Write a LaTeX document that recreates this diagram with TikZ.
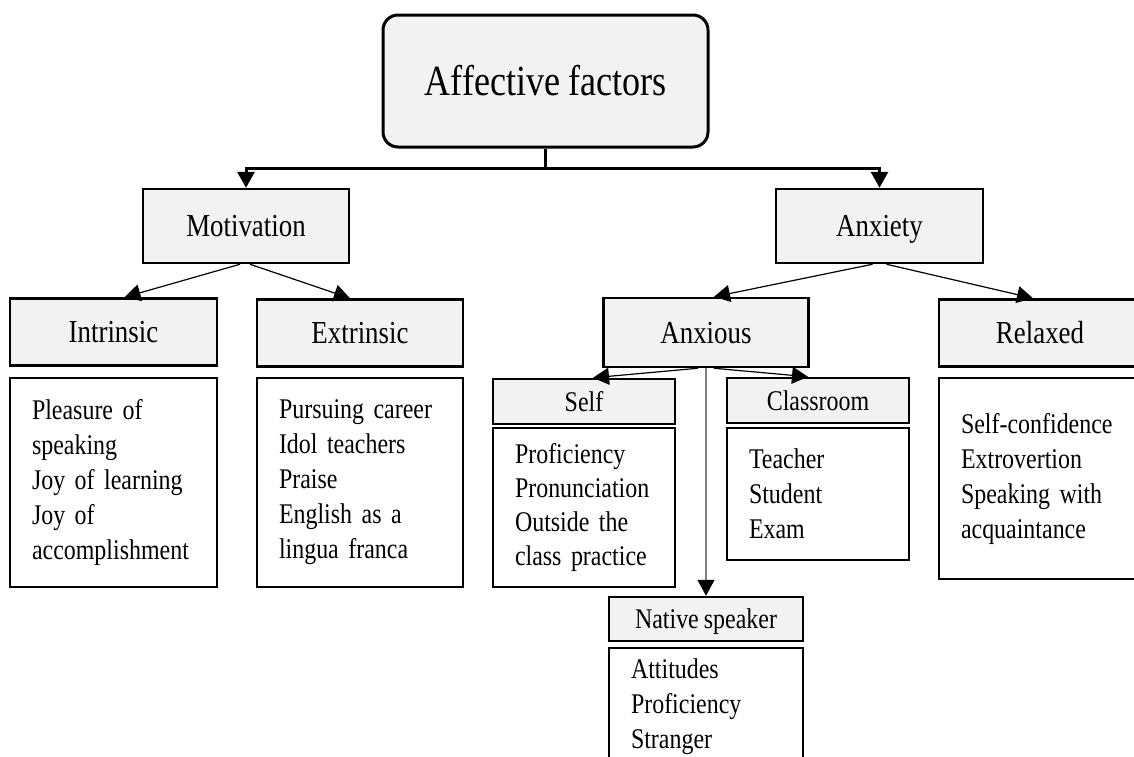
\documentclass[tikz,border=0pt]{standalone}
\usepackage{fontspec}
\setmainfont{Liberation Serif}[FakeStretch=0.84, WordSpace=0.84]
\usetikzlibrary{arrows.meta,positioning}
\definecolor{boxgray}{RGB}{242,242,242}
\tikzstyle{topbox} = [rectangle, draw, line width=3pt, fill=boxgray,
    rounded corners=15pt, minimum width=325pt, minimum height=132pt,
    font=\fontsize{43}{46}\selectfont]
\tikzstyle{headbox} = [rectangle, draw, line width=2.5pt, fill=boxgray,
    minimum width=206pt, minimum height=74pt, text height=21pt, text depth=0pt,
    font=\fontsize{32}{34}\selectfont]
\tikzstyle{subbox} = [headbox, minimum height=67pt]
\tikzstyle{minorbox} = [headbox, minimum width=182pt, minimum height=45pt,
    text height=19pt, font=\fontsize{28.5}{30}\selectfont]
\tikzstyle{listbox} = [rectangle, draw, line width=2.5pt, align=left,
    inner xsep=22pt, font=\fontsize{28.5}{35}\selectfont]
\tikzstyle{trunk} = [draw, line width=3pt, {Triangle[length=16pt,width=17pt]}-{Triangle[length=16pt,width=17pt]}]
\tikzstyle{line} = [draw, line width=1.2pt, -{Triangle[length=16pt,width=17pt]}]

\begin{document}
\begin{tikzpicture}[x=1pt, y=-1pt]
  \useasboundingbox (0,0) rectangle (1134,756);
   % Place nodes
    \node [topbox] (affect) at (545.5,81) {Affective factors};
    \node [headbox] (motiv) at (246,226) {Motivation};
    \node [headbox, minimum width=207pt] (anxiety) at (879.5,226) {Anxiety};
    \node [subbox, minimum width=207pt] (intrinsic) at (113.5,332) {Intrinsic};
    \node [subbox] (extrinsic) at (360,333) {Extrinsic};
    \node [subbox, minimum width=205pt, minimum height=69pt] (anxious) at (706,332.5) {Anxious};
    \node [subbox, minimum width=202pt] (relaxed) at (1040,333) {Relaxed};
    \node [minorbox] (self) at (584,401.5) {Self};
    \node [minorbox] (classroom) at (818,400.5) {Classroom};
    \node [minorbox, minimum width=194pt, minimum height=44pt] (native) at (706,619) {Native speaker};
   % Lists
    \node [listbox, text width=163pt, minimum height=209pt, below=10pt of intrinsic] (intrlist)
      {Pleasure of\\speaking\\Joy of learning\\Joy of\\accomplishment};
    \node [listbox, text width=162pt, minimum height=209pt, below=9pt of extrinsic] (extrlist)
      {Pursuing career\\Idol teachers\\Praise\\English as a\\lingua franca};
    \node [listbox, text width=158pt, minimum height=201pt, below=9pt of relaxed] (relaxlist)
      {Self-confidence\\Extrovertion\\Speaking with\\acquaintance};
    \node [listbox, text width=138pt, minimum height=159pt, below=1.5pt of self,
      font=\fontsize{28.5}{34}\selectfont] (selflist)
      {Proficiency\\Pronunciation\\Outside the\\class practice};
    \node [listbox, text width=138pt, minimum height=132pt, below=2.5pt of classroom] (classlist)
      {Teacher\\Student\\Exam};
    \node [listbox, text width=150pt, minimum height=118pt, below=4.5pt of native] (nativelist)
      {Attitudes\\Proficiency\\Stranger};
   % Draw edges
    \coordinate (fork) at (545.5,168);
    \path [draw, line width=3pt] (affect) -- (fork);
    \path [trunk] (motiv) -- (fork -| motiv) -- (fork -| anxiety) -- (anxiety);
    \path [line] ([xshift=-6pt]motiv.south) -- ([xshift=11pt]intrinsic.north);
    \path [line] ([xshift=4pt]motiv.south) -- ([xshift=-10pt]extrinsic.north);
    \path [line] ([xshift=-7pt]anxiety.south) -- ([xshift=8pt]anxious.north);
    \path [line] ([xshift=7pt]anxiety.south) -- ([xshift=-7pt]relaxed.north);
    \path [line] ([xshift=-8pt]anxious.south) -- ([xshift=9pt]self.north);
    \path [line] ([xshift=8pt]anxious.south) -- ([xshift=-10pt]classroom.north);
    \path [line, draw=gray, -{Triangle[length=16pt,width=17pt,color=black]}] (anxious) -- (native);
\end{tikzpicture}
\end{document}
